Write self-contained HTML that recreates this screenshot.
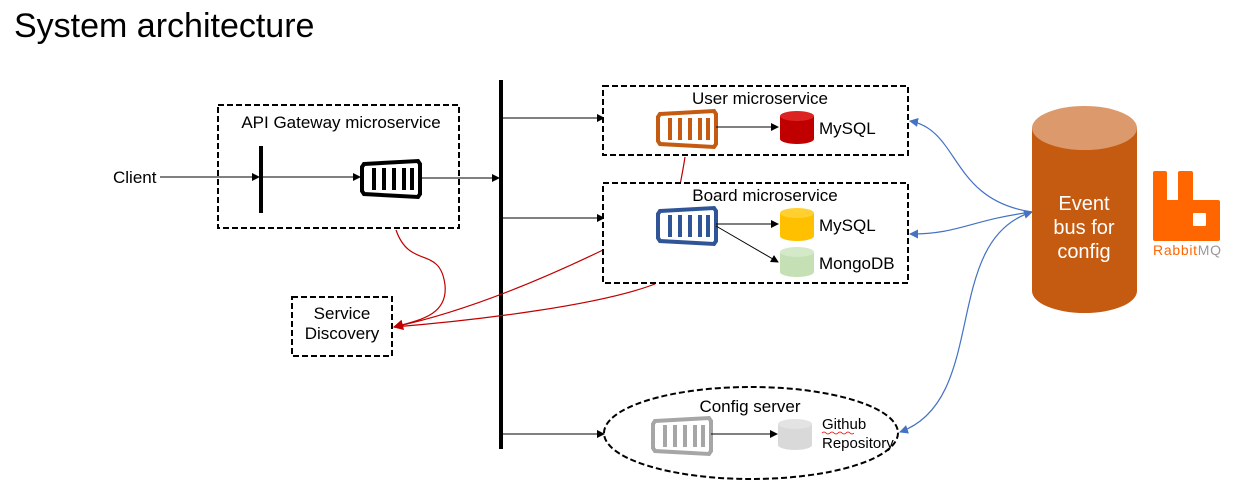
<!DOCTYPE html>
<html><head><meta charset="utf-8"><style>
body{margin:0;background:#fff;}
svg{display:block;font-family:"Liberation Sans","Noto Sans CJK KR",sans-serif;}
</style></head><body>
<svg width="1249" height="500" viewBox="0 0 1249 500">
<defs>
<marker id="ab" markerWidth="8" markerHeight="8" refX="7" refY="4" orient="auto" markerUnits="userSpaceOnUse"><path d="M0,0 L8,4 L0,8 z" fill="#000"/></marker>
<marker id="ar" markerWidth="10" markerHeight="10" refX="9" refY="5" orient="auto" markerUnits="userSpaceOnUse"><path d="M0,0 L10,5 L0,10 z" fill="#c00000"/></marker>
<marker id="au" markerWidth="9" markerHeight="9" refX="8" refY="4.5" orient="auto-start-reverse" markerUnits="userSpaceOnUse"><path d="M0,0 L9,4.5 L0,9 z" fill="#4472c4"/></marker>
<g id="ct">
<path d="M2,3 L56,0 L58,3 L58,33 L56,36 L2,33 L0,30 L0,6 Z" fill="none" stroke-width="4"/>
<path d="M12,7 V29 M22,7 V29 M32,7 V29 M42,7 V29 M50,7 V29" stroke-width="4"/>
</g>
</defs>
<text x="14" y="37" font-size="34" fill="#000">System architecture</text>

<!-- API gateway -->
<rect x="218" y="105" width="241" height="123" fill="none" stroke="#000" stroke-width="2" stroke-dasharray="6,3"/>
<text x="341" y="128" font-size="17" text-anchor="middle">API Gateway microservice</text>
<text x="113" y="183" font-size="17">Client</text>
<line x1="160" y1="177" x2="259" y2="177" stroke="#000" marker-end="url(#ab)"/>
<rect x="259" y="146" width="4" height="67" fill="#000"/>
<line x1="263" y1="177" x2="360" y2="177" stroke="#000" marker-end="url(#ab)"/>
<g transform="translate(362,161)" stroke="#000"><use href="#ct"/></g>
<line x1="420" y1="178" x2="499" y2="178" stroke="#000" marker-end="url(#ab)"/>

<!-- bus -->
<rect x="499" y="80" width="4" height="369" fill="#000"/>
<line x1="503" y1="118" x2="604" y2="118" stroke="#000" marker-end="url(#ab)"/>
<line x1="503" y1="218" x2="604" y2="218" stroke="#000" marker-end="url(#ab)"/>
<line x1="503" y1="434" x2="604" y2="434" stroke="#000" marker-end="url(#ab)"/>

<!-- Service discovery -->
<rect x="292" y="297" width="100" height="59" fill="none" stroke="#000" stroke-width="2" stroke-dasharray="6,3"/>
<text x="342" y="319" font-size="17" text-anchor="middle">Service</text>
<text x="342" y="339" font-size="17" text-anchor="middle">Discovery</text>
<path d="M396,230 C410,270 440,245 445,285 C448,315 420,320 394,327" fill="none" stroke="#c00000" stroke-width="1.2" marker-end="url(#ar)"/>
<path d="M685,157 C683,170 681,180 680,185" fill="none" stroke="#c00000" stroke-width="1.2"/>
<path d="M603,250 C520,290 450,315 394,327" fill="none" stroke="#c00000" stroke-width="1.2" marker-end="url(#ar)"/>
<path d="M655,284 C600,305 480,320 394,327" fill="none" stroke="#c00000" stroke-width="1.2"/>

<!-- User ms -->
<rect x="603" y="86" width="305" height="69" fill="#fff" stroke="#000" stroke-width="2" stroke-dasharray="6,3"/>
<text x="760" y="104" font-size="17" text-anchor="middle">User microservice</text>
<g transform="translate(658,111)" stroke="#c55a11"><use href="#ct"/></g>
<line x1="716" y1="127" x2="778" y2="127" stroke="#000" marker-end="url(#ab)"/>
<path d="M780,116 V139 A17,5 0 0 0 814,139 V116" fill="#c00000"/><ellipse cx="797" cy="116" rx="17" ry="5" fill="#d22"/>
<text x="819" y="134" font-size="17">MySQL</text>

<!-- Board ms -->
<rect x="603" y="183" width="305" height="100" fill="#fff" stroke="#000" stroke-width="2" stroke-dasharray="6,3"/>
<text x="765" y="201" font-size="17" text-anchor="middle">Board microservice</text>
<g transform="translate(658,208)" stroke="#2f5597"><use href="#ct"/></g>
<line x1="716" y1="224" x2="778" y2="224" stroke="#000" marker-end="url(#ab)"/>
<line x1="716" y1="226" x2="778" y2="262" stroke="#000" marker-end="url(#ab)"/>
<path d="M780,213 V236 A17,5 0 0 0 814,236 V213" fill="#ffc000"/><ellipse cx="797" cy="213" rx="17" ry="5" fill="#ffd030"/>
<text x="819" y="231" font-size="17">MySQL</text>
<path d="M780,252 V272 A17,5 0 0 0 814,272 V252" fill="#c5e0b4"/><ellipse cx="797" cy="252" rx="17" ry="5" fill="#d4e9c8"/>
<text x="819" y="269" font-size="17">MongoDB</text>

<!-- Config server -->
<ellipse cx="751" cy="433" rx="147" ry="46" fill="none" stroke="#000" stroke-width="2" stroke-dasharray="6,3"/>
<text x="750" y="412" font-size="17" text-anchor="middle">Config server</text>
<g transform="translate(653,418)" stroke="#a6a6a6"><use href="#ct"/></g>
<line x1="711" y1="434" x2="777" y2="434" stroke="#000" marker-end="url(#ab)"/>
<path d="M778,424 V445 A17,5 0 0 0 812,445 V424" fill="#d9d9d9"/><ellipse cx="795" cy="424" rx="17" ry="5" fill="#e3e3e3"/>
<text x="822" y="429" font-size="15">Github</text>
<path d="M822,433 q2,-2 4,0 t4,0 t4,0 t4,0 t4,0 t4,0 t4,0 t4,0" fill="none" stroke="#e00" stroke-width="0.8"/>
<text x="822" y="448" font-size="15">Repository</text>

<!-- blue connectors -->
<path d="M910,121 C960,130 950,200 1032,212" fill="none" stroke="#4472c4" stroke-width="1.2" marker-start="url(#au)"/>
<path d="M910,234 C960,234 970,220 1032,212" fill="none" stroke="#4472c4" stroke-width="1.2" marker-start="url(#au)"/>
<path d="M900,432 C990,400 940,240 1032,212" fill="none" stroke="#4472c4" stroke-width="1.2" marker-start="url(#au)" marker-end="url(#au)"/>

<!-- Event bus -->
<path d="M1032,128 V291 A52.5,22 0 0 0 1137,291 V128 Z" fill="#c55a11"/>
<ellipse cx="1084.5" cy="128" rx="52.5" ry="22" fill="#dc9a6c"/>
<text x="1084" y="210" font-size="20" fill="#fff" text-anchor="middle">Event</text>
<text x="1084" y="234" font-size="20" fill="#fff" text-anchor="middle">bus for</text>
<text x="1084" y="258" font-size="20" fill="#fff" text-anchor="middle">config</text>

<!-- RabbitMQ -->
<path d="M1153,173 Q1153,171 1155,171 h10 q2,0 2,2 v27 h11 v-27 q0,-2 2,-2 h11 q2,0 2,2 v27 h25 q2,0 2,2 v37 q0,2 -2,2 h-63 q-2,0 -2,-2 z" fill="#ff6600"/>
<rect x="1193" y="213" width="13" height="13" rx="1" fill="#fff"/>
<text x="1153" y="255" font-size="14" fill="#ff6600" textLength="68">Rabbit<tspan fill="#999">MQ</tspan></text>
</svg>
</body></html>
